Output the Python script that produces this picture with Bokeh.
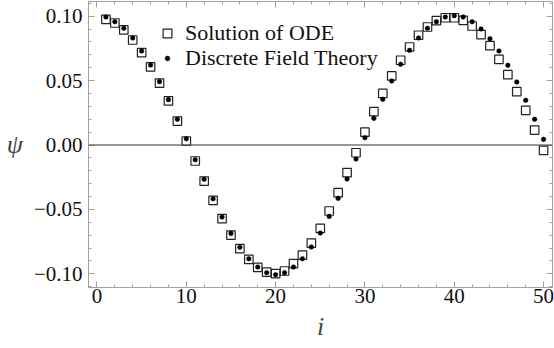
from bokeh.plotting import figure
from bokeh.models import (LinearAxis, FixedTicker, CustomJSTickFormatter, Span,
                          Legend, LegendItem, Range1d, ColumnDataSource)
from bokeh.embed import file_html
from bokeh.resources import INLINE

# ---- data ----
site = list(range(1, 51))
psi_ode = [0.0976, 0.0947, 0.0893, 0.0815, 0.0717, 0.0606, 0.0481, 0.0342, 0.0186, 0.0031,
           -0.0124, -0.0280, -0.0429, -0.0572, -0.0699, -0.0805, -0.0887, -0.0950, -0.0986, -0.0999,
           -0.0978, -0.0921, -0.0854, -0.0761, -0.0647, -0.0512, -0.0370, -0.0215, -0.0060, 0.0100,
           0.0259, 0.0401, 0.0536, 0.0658, 0.0761, 0.0852, 0.0916, 0.0965, 0.0988, 0.0988,
           0.0968, 0.0924, 0.0857, 0.0771, 0.0665, 0.0546, 0.0414, 0.0269, 0.0116, -0.0041]
psi_dft = [0.0994, 0.0957, 0.0906, 0.0831, 0.0730, 0.0621, 0.0492, 0.0352, 0.0200, 0.0049,
           -0.0114, -0.0266, -0.0417, -0.0559, -0.0686, -0.0794, -0.0883, -0.0947, -0.0991, -0.1007,
           -0.0991, -0.0947, -0.0883, -0.0792, -0.0683, -0.0554, -0.0414, -0.0264, -0.0109, 0.0057,
           0.0207, 0.0355, 0.0497, 0.0627, 0.0735, 0.0831, 0.0906, 0.0957, 0.0994, 0.1004,
           0.0994, 0.0957, 0.0901, 0.0825, 0.0730, 0.0619, 0.0489, 0.0347, 0.0200, 0.0044]
series_names = ["Solution of ODE", "Discrete Field Theory"]
x_major = [0, 10, 20, 30, 40, 50]
x_minor = [v for v in range(0, 52, 2)]
y_major = [-0.10, -0.05, 0.0, 0.05, 0.10]
y_minor = [round(-0.11 + 0.01 * k, 2) for k in range(23)]

FONT = "Liberation Serif"
FRAME = "#a0a0a0"

p = figure(width=554, height=348, output_backend="svg", toolbar_location=None,
           x_range=Range1d(-0.95, 51.0), y_range=Range1d(-0.1106, 0.1114),
           min_border_left=88, min_border_right=2, min_border_top=1, min_border_bottom=61,
           x_axis_location=None, y_axis_location=None)
p.grid.visible = False
p.outline_line_color = FRAME
p.background_fill_color = "white"
p.border_fill_color = "white"

fmt_y = CustomJSTickFormatter(code="return (tick < -1e-9 ? '\u2212' : '') + Math.abs(tick).toFixed(2);")
fmt_none = CustomJSTickFormatter(code="return '';")


def style(ax, labels=True):
    ax.axis_line_color = FRAME
    ax.major_tick_line_color = FRAME
    ax.minor_tick_line_color = FRAME
    ax.major_tick_in = 6
    ax.major_tick_out = 0
    ax.minor_tick_in = 3
    ax.minor_tick_out = 0
    if labels:
        ax.major_label_text_font = FONT
        ax.major_label_text_font_size = "21px"
        ax.major_label_text_color = "#111111"
    else:
        ax.formatter = fmt_none
        ax.major_label_text_font_size = "1px"
        ax.major_label_standoff = 0


xt = FixedTicker(ticks=x_major, minor_ticks=x_minor)
yt = FixedTicker(ticks=y_major, minor_ticks=y_minor)

xb = LinearAxis(ticker=xt, axis_label="i")
style(xb)
xb.major_label_standoff = 1
xb.axis_label_text_font = FONT
xb.axis_label_text_font_style = "italic"
xb.axis_label_text_font_size = "26px"
xb.axis_label_standoff = 6
p.add_layout(xb, "below")

yl = LinearAxis(ticker=yt, formatter=fmt_y, axis_label="\u03c8")
style(yl)
yl.major_label_standoff = 6
yl.axis_label_text_font = FONT
yl.axis_label_text_font_style = "italic"
yl.axis_label_text_font_size = "26px"
yl.axis_label_orientation = "horizontal"
yl.axis_label_standoff = 8
p.add_layout(yl, "left")

xa = LinearAxis(ticker=xt)
style(xa, labels=False)
p.add_layout(xa, "above")
yr = LinearAxis(ticker=yt)
style(yr, labels=False)
p.add_layout(yr, "right")

p.add_layout(Span(location=0, dimension="width", line_color="#333333", line_width=1))

src = ColumnDataSource(dict(i=site, ode=psi_ode, dft=psi_dft))
r_ode = p.scatter("i", "ode", source=src, marker="square", size=8.5,
                  fill_color=None, line_color="#222222", line_width=1.2)
r_dft = p.scatter("i", "dft", source=src, marker="circle", size=4.6,
                  fill_color="black", line_color="black", line_width=0.5)

for rend, name, gh, loc in [(r_ode, series_names[0], 22, (68, 241)),
                            (r_dft, series_names[1], 12, (68, 216))]:
    lg = Legend(items=[LegendItem(label=name, renderers=[rend])], location=loc,
                padding=0, margin=0, glyph_width=22, glyph_height=gh, label_height=22,
                label_standoff=7, border_line_alpha=0, background_fill_alpha=0,
                label_text_font=FONT, label_text_font_size="22px", label_text_color="#111111")
    p.add_layout(lg)

open("out.html", "w").write(file_html(p, INLINE))
